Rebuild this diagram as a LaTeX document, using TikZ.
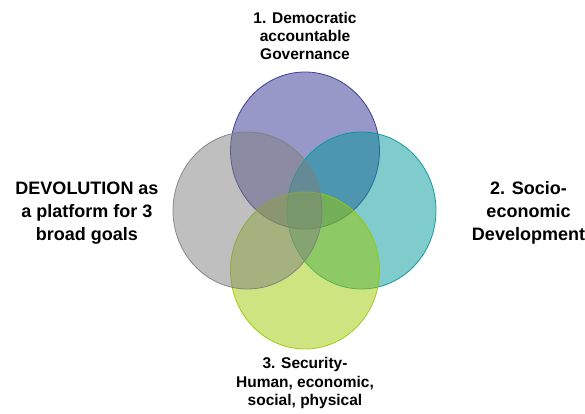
\documentclass[tikz,border=0pt]{standalone}
\usepackage{fontspec}
\setmainfont{Liberation Sans}
\usepackage{tikz}

\definecolor{govblue}{RGB}{49,49,145}
\definecolor{ecoteal}{RGB}{1,151,151}
\definecolor{secgreen}{RGB}{155,201,1}
\definecolor{devgray}{RGB}{127,127,127}

\tikzset{
  goal/.style={draw=#1,fill=#1,fill opacity=0.5,draw opacity=0.9,line width=0.8pt},
  biglbl/.style={align=center,font=\bfseries\fontsize{18}{23}\selectfont},
  lbl/.style={align=center,font=\bfseries\fontsize{15.5}{18.3}\selectfont}
}

\begin{document}
\begin{tikzpicture}[x=1pt,y=1pt]
\useasboundingbox (0,0) rectangle (585,414);
\draw[goal=govblue](305,263.5) ellipse [x radius=74.5,y radius=78.5];
\draw[goal=ecoteal](361.5,203.5) ellipse [x radius=74.5,y radius=78.5];
\draw[goal=secgreen](305,143.5) ellipse [x radius=74.5,y radius=78.5];
\draw[goal=devgray](247.5,203.5) ellipse [x radius=74.5,y radius=78.5];
\node[lbl] (gov) at (305,378) {1. Democratic\\accountable\\Governance};
\node[biglbl] (eco) at (528.5,200.7) {2. Socio-\\economic\\Development};
\node[lbl] (sec) at (305,31) {3. Security-\\Human, economic,\\social, physical};
\node[biglbl] (devo) at (87,200.7) {DEVOLUTION as\\a platform for 3\\broad goals};
\end{tikzpicture}
\end{document}
